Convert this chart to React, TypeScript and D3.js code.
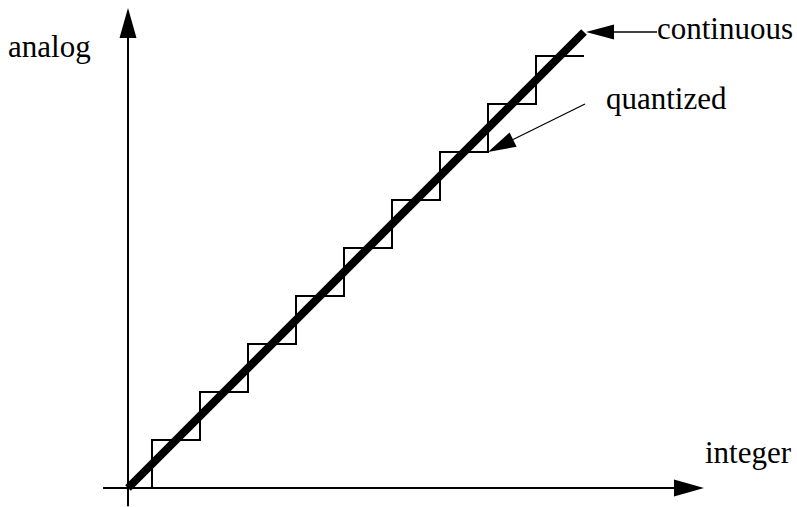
import React from "react";
import * as d3 from "d3";

const W = 797;
const H = 507;

// integer sample positions and their quantized analog levels
const integers = [0, 1, 2, 3, 4, 5, 6, 7, 8, 9];
const quantizedLevels = [0, 1, 2, 3, 4, 5, 6, 7, 8, 9];
// continuous ramp endpoints (integer, analog)
const continuousX = [0, 9.5];
const continuousY = [0, 9.5];
// axis extents
const xAxisRange = [-0.52, 12];
const yAxisRange = [-0.38, 10];

const labels = {
  x: "integer",
  y: "analog",
  continuous: "continuous",
  quantized: "quantized",
};

const FONT = "'Liberation Serif', 'Times New Roman', serif";

export default function App() {
  const x = d3.scaleLinear().domain([0, 12]).range([128, 128 + 12 * 48]);
  const y = d3.scaleLinear().domain([0, 10]).range([488, 488 - 10 * 48]);

  // staircase: each level n spans [n-0.5, n+0.5]
  const stairPts: [number, number][] = [];
  integers.forEach((n, i) => {
    const lv = quantizedLevels[i];
    const x0 = Math.max(0, n - 0.5);
    const x1 = n + 0.5;
    stairPts.push([x0, lv]);
    stairPts.push([x1, lv]);
  });
  const stairLine = d3
    .line<[number, number]>()
    .x((d) => x(d[0]))
    .y((d) => y(d[1]));

  const contLine = d3
    .line<number>()
    .x((_, i) => x(continuousX[i]))
    .y((_, i) => y(continuousY[i]));

  const ox = x(0);
  const oy = y(0);
  const xTip = x(xAxisRange[1]);
  const yTip = y(yAxisRange[1]);

  const cEndX = x(continuousX[1]);
  const cEndY = y(continuousY[1]);

  // quantized pointer: from label to a corner of the staircase (x=7.5, level 7)
  const qTipX = x(7.5);
  const qTipY = y(7);
  const qFromX = 585;
  const qFromY = 104;
  const qAng = Math.atan2(qTipY - qFromY, qTipX - qFromX);
  const qLen = 28;
  const qHalf = 8;
  const qBaseX = qTipX - qLen * Math.cos(qAng);
  const qBaseY = qTipY - qLen * Math.sin(qAng);
  const px = -Math.sin(qAng) * qHalf;
  const py = Math.cos(qAng) * qHalf;

  return (
    <svg
      width={W}
      height={H}
      style={{ position: "absolute", left: 0, top: 0, background: "#fff" }}
    >
      {/* axes */}
      <line
        x1={x(xAxisRange[0])}
        y1={oy}
        x2={xTip - 25}
        y2={oy}
        stroke="#000"
        strokeWidth={2}
      />
      <polygon
        points={`${xTip},${oy} ${xTip - 30},${oy - 8.5} ${xTip - 30},${oy + 8.5}`}
        fill="#000"
      />
      <line
        x1={ox}
        y1={y(yAxisRange[0])}
        x2={ox}
        y2={yTip + 25}
        stroke="#000"
        strokeWidth={2}
      />
      <polygon
        points={`${ox},${yTip} ${ox - 8.5},${yTip + 30} ${ox + 8.5},${yTip + 30}`}
        fill="#000"
      />

      {/* quantized staircase */}
      <path
        d={stairLine(stairPts) || ""}
        fill="none"
        stroke="#000"
        strokeWidth={2}
        shapeRendering="crispEdges"
      />

      {/* continuous ramp */}
      <path
        d={contLine(continuousX) || ""}
        fill="none"
        stroke="#000"
        strokeWidth={8}
        strokeLinecap="butt"
      />

      {/* continuous pointer */}
      <line
        x1={cEndX + 25}
        y1={cEndY}
        x2={657}
        y2={cEndY}
        stroke="#000"
        strokeWidth={1.5}
      />
      <polygon
        points={`${cEndX + 2},${cEndY} ${cEndX + 30},${cEndY - 7.5} ${cEndX + 30},${cEndY + 7.5}`}
        fill="#000"
      />

      {/* quantized pointer */}
      <line
        x1={qFromX}
        y1={qFromY}
        x2={qBaseX}
        y2={qBaseY}
        stroke="#000"
        strokeWidth={1.2}
      />
      <polygon
        points={`${qTipX},${qTipY} ${qBaseX + px},${qBaseY + py} ${qBaseX - px},${qBaseY - py}`}
        fill="#000"
      />

      {/* labels */}
      <text x={8} y={57} fontFamily={FONT} fontSize={31} fill="#000">
        {labels.y}
      </text>
      <text x={705} y={463} fontFamily={FONT} fontSize={31} fill="#000">
        {labels.x}
      </text>
      <text x={657} y={39} fontFamily={FONT} fontSize={31} fill="#000">
        {labels.continuous}
      </text>
      <text x={606} y={109} fontFamily={FONT} fontSize={31} fill="#000">
        {labels.quantized}
      </text>
    </svg>
  );
}
